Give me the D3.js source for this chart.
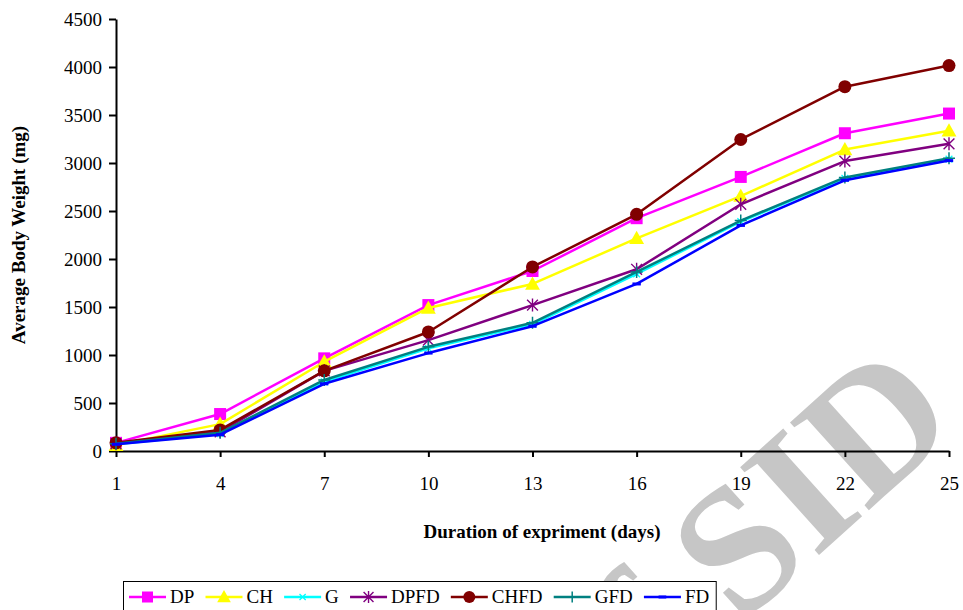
<!DOCTYPE html>
<html>
<head>
<meta charset="utf-8">
<script src="https://cdn.jsdelivr.net/npm/d3@7"></script>
<style>
  body { margin: 0; background: #fff; }
  svg { display: block; }
  text { font-family: "Liberation Serif", "Times New Roman", serif; }
</style>
</head>
<body>
<script>
// data
var days = [1, 4, 7, 10, 13, 16, 19, 22, 25];
var yTicks = [0, 500, 1000, 1500, 2000, 2500, 3000, 3500, 4000, 4500];
var seriesNames = ["DP", "CH", "G", "DPFD", "CHFD", "GFD", "FD"];
var DP   = [85, 385, 965, 1520, 1875, 2425, 2855, 3310, 3515];
var CH   = [60, 280, 930, 1490, 1740, 2215, 2655, 3140, 3335];
var G    = [70, 180, 720, 1070, 1320, 1845, 2390, 2840, 3040];
var DPFD = [75, 200, 835, 1155, 1520, 1893, 2570, 3020, 3200];
var CHFD = [85, 220, 835, 1240, 1917, 2465, 3245, 3795, 4015];
var GFD  = [75, 190, 740, 1085, 1335, 1865, 2400, 2850, 3050];
var FD   = [70, 170, 700, 1020, 1300, 1740, 2350, 2820, 3025];

var values = [DP, CH, G, DPFD, CHFD, GFD, FD];
var colors = ["#ff00ff", "#ffff00", "#00ffff", "#800080", "#800000", "#008080", "#0000ff"];
var shapes = ["square", "triangle", "x", "star", "circle", "plus", "dash"];

var W = 963, H = 610;
var svg = d3.select("body").append("svg")
    .attr("width", W)
    .attr("height", H);

// watermark, sits behind the chart
var wm = svg.append("g")
    .attr("transform", "translate(740,626) rotate(-42)")
    .style("font-weight", "bold")
    .style("font-size", "180px")
    .attr("fill", "#c6c6c6");
wm.append("text").attr("text-anchor", "end").text("Archive of\u00a0");
wm.append("text").attr("text-anchor", "start").text("SID");

var x = d3.scaleLinear().domain([1, 25]).range([116, 949]);
var y = d3.scaleLinear().domain([0, 4500]).range([451, 19]);

// axes
var yAxis = svg.append("g")
    .attr("transform", "translate(116,0)")
    .call(d3.axisLeft(y).tickValues(yTicks).tickFormat(d3.format("d"))
      .tickSize(7).tickSizeOuter(0).tickPadding(7));
var xAxis = svg.append("g")
    .attr("transform", "translate(0,451)")
    .call(d3.axisBottom(x).tickValues(days).tickFormat(d3.format("d"))
      .tickSize(6).tickSizeOuter(0).tickPadding(20));

[yAxis, xAxis].forEach(function(a) {
  a.selectAll("path, line").attr("stroke", "#000").attr("stroke-width", 2);
  a.selectAll("text")
    .attr("fill", "#000")
    .style("font-family", "'Liberation Serif', serif")
    .style("font-size", "19px");
});

// axis titles
svg.append("text")
    .attr("x", 542).attr("y", 538)
    .attr("text-anchor", "middle")
    .style("font-weight", "bold").style("font-size", "19px")
    .text("Duration of expriment (days)");

svg.append("text")
    .attr("transform", "translate(25,235) rotate(-90)")
    .attr("text-anchor", "middle")
    .style("font-weight", "bold").style("font-size", "19px")
    .text("Average Body Weight (mg)");

// markers
function drawMarker(g, shape, color, cx, cy, s) {
  if (shape === "square") {
    g.append("rect").attr("x", cx - s / 2).attr("y", cy - s / 2)
      .attr("width", s).attr("height", s).attr("fill", color);
  } else if (shape === "triangle") {
    var h = s * 1.05;
    g.append("path")
      .attr("d", "M" + cx + "," + (cy - h * 0.6) + "L" + (cx + s * 0.62) + "," + (cy + h * 0.45) +
                 "L" + (cx - s * 0.62) + "," + (cy + h * 0.45) + "Z")
      .attr("fill", color);
  } else if (shape === "circle") {
    g.append("circle").attr("cx", cx).attr("cy", cy).attr("r", s / 2 + 0.5).attr("fill", color);
  } else if (shape === "x") {
    var r = s * 0.28;
    g.append("path")
      .attr("d", "M" + (cx - r) + "," + (cy - r) + "L" + (cx + r) + "," + (cy + r) +
                 "M" + (cx - r) + "," + (cy + r) + "L" + (cx + r) + "," + (cy - r))
      .attr("stroke", color).attr("stroke-width", 1.3);
  } else if (shape === "star") {
    var r2 = s * 0.45;
    g.append("path")
      .attr("d", "M" + (cx - r2) + "," + (cy - r2) + "L" + (cx + r2) + "," + (cy + r2) +
                 "M" + (cx - r2) + "," + (cy + r2) + "L" + (cx + r2) + "," + (cy - r2) +
                 "M" + cx + "," + (cy - r2 * 1.2) + "L" + cx + "," + (cy + r2 * 1.2))
      .attr("stroke", color).attr("stroke-width", 1.4);
  } else if (shape === "plus") {
    var r3 = s * 0.5;
    g.append("path")
      .attr("d", "M" + (cx - r3) + "," + cy + "L" + (cx + r3) + "," + cy +
                 "M" + cx + "," + (cy - r3) + "L" + cx + "," + (cy + r3))
      .attr("stroke", color).attr("stroke-width", 1.5);
  } else if (shape === "dash") {
    g.append("rect").attr("x", cx - s * 0.35).attr("y", cy - 1.5)
      .attr("width", s * 0.7).attr("height", 3).attr("fill", color);
  }
}

var line = d3.line()
    .x(function(d, i) { return x(days[i]); })
    .y(function(d) { return y(d); });

values.forEach(function(vals, k) {
  var g = svg.append("g");
  g.append("path")
    .datum(vals)
    .attr("d", line)
    .attr("fill", "none")
    .attr("stroke", colors[k])
    .attr("stroke-width", 2.5)
    .attr("stroke-linejoin", "round");
  vals.forEach(function(v, i) {
    drawMarker(g, shapes[k], colors[k], x(days[i]), y(v), 12);
  });
});

// legend (box bottom runs past the page edge like the original)
var legend = svg.append("g");
var box = legend.append("rect")
    .attr("x", 123.5).attr("y", 581.5)
    .attr("width", 590).attr("height", 40)
    .attr("fill", "#fff").attr("stroke", "#000").attr("stroke-width", 1);

var lx = 129;
seriesNames.forEach(function(name, k) {
  var ly = 597;
  legend.append("line")
    .attr("x1", lx).attr("x2", lx + 37)
    .attr("y1", ly).attr("y2", ly)
    .attr("stroke", colors[k]).attr("stroke-width", 2.5);
  drawMarker(legend, shapes[k], colors[k], lx + 18.5, ly, 11);
  var t = legend.append("text")
    .attr("x", lx + 41).attr("y", 603)
    .style("font-size", "19px")
    .text(name);
  lx = lx + 41 + t.node().getComputedTextLength() + 11.2;
});
box.attr("width", lx - 11.2 + 7 - 123.5);
</script>
</body>
</html>
